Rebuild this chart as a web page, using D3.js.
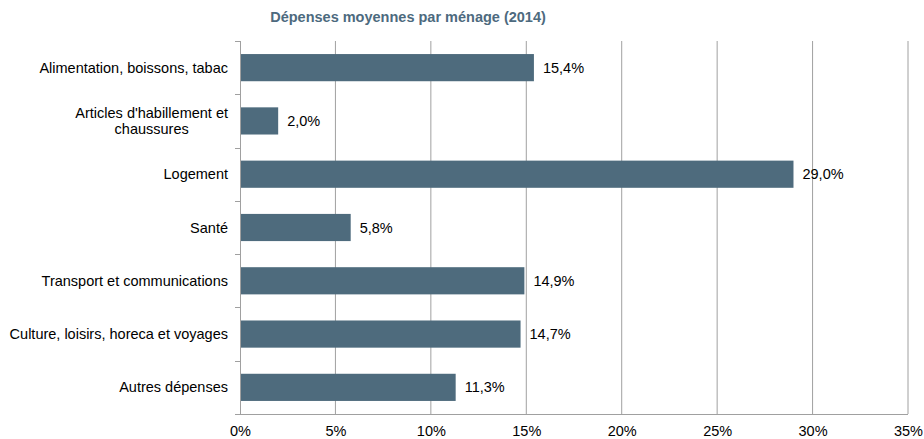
<!DOCTYPE html>
<html><head><meta charset="utf-8">
<script src="https://cdn.jsdelivr.net/npm/d3@7"></script>
<style>body{margin:0;background:#fff;}text{font-family:"Liberation Sans",Arial,sans-serif;}</style>
</head><body>
<svg id="c" width="924" height="439"></svg>
<script>
const categories = [["Alimentation, boissons, tabac"],["Articles d'habillement et","chaussures"],["Logement"],["Santé"],["Transport et communications"],["Culture, loisirs, horeca et voyages"],["Autres dépenses"]];
const values = [15.4, 2.0, 29.0, 5.8, 14.9, 14.7, 11.3];
const tickValues = [0,5,10,15,20,25,30,35];
const title = "Dépenses moyennes par ménage (2014)";

const FS = 14.5;
const svg = d3.select("#c");
const m = {l:240, r:908, t:41, b:414};
const x = d3.scaleLinear().domain([0,35]).range([m.l, m.r]);
const y = d3.scaleBand().domain(d3.range(categories.length)).range([m.t, m.b]).paddingInner(0.49).paddingOuter(0.245);
const fmt = v => d3.format(".1f")(v).replace(".", ",") + "%";

svg.append("text").attr("x", 408).attr("y", 22).attr("text-anchor","middle")
  .attr("font-size", 14.5).attr("font-weight","bold").attr("fill","#4d6a7e").text(title);

// gridlines
svg.append("g").selectAll("line").data(tickValues.slice(1)).join("line")
  .attr("x1", d=>x(d)).attr("x2", d=>x(d)).attr("y1", m.t).attr("y2", m.b)
  .attr("stroke","#a0a0a0").attr("stroke-width",1);

// bars
svg.append("g").selectAll("rect").data(values).join("rect")
  .attr("x", x(0)).attr("y", (d,i)=>y(i)).attr("width", d=>x(d)-x(0)).attr("height", y.bandwidth())
  .attr("fill","#4e6b7d");

// y axis line and ticks
const step = (m.b - m.t)/categories.length;
svg.append("line").attr("x1", m.l+0.5).attr("x2", m.l+0.5).attr("y1", m.t).attr("y2", m.b).attr("stroke","#a0a0a0");
svg.append("g").selectAll("line").data(d3.range(categories.length+1)).join("line")
  .attr("x1", m.l-5).attr("x2", m.l).attr("y1", d=>Math.round(m.t+d*step)+0.5).attr("y2", d=>Math.round(m.t+d*step)+0.5)
  .attr("stroke","#a0a0a0");

// x axis
const xa = svg.append("g").attr("transform", `translate(0,${m.b})`)
  .call(d3.axisBottom(x).tickValues(tickValues).tickSize(0).tickPadding(12).tickFormat(d=>d+"%"));
xa.select(".domain").attr("stroke","#a0a0a0").attr("d", `M${m.l-5},0.5H${m.r}`);
xa.selectAll("text").attr("font-size",FS).attr("fill","#000");

// category labels
categories.forEach((lines,i)=>{
  const cy = y(i) + y.bandwidth()/2;
  const g = svg.append("text").attr("font-size",FS).attr("fill","#000").attr("text-anchor","middle");
  const n = lines.length;
  lines.forEach((t,j)=>{
    g.append("tspan").attr("x",0).attr("y", cy + 5 + (j-(n-1)/2)*16.5).text(t);
  });
  const w = d3.max(g.selectAll("tspan").nodes(), nd=>nd.getComputedTextLength());
  g.selectAll("tspan").attr("x", 228 - w/2);
});

// value labels
svg.append("g").selectAll("text").data(values).join("text")
  .attr("x", d=>x(d)+9).attr("y",(d,i)=>y(i)+y.bandwidth()/2+5)
  .attr("font-size",FS).attr("fill","#000").text(d=>fmt(d));
</script>
</body></html>
